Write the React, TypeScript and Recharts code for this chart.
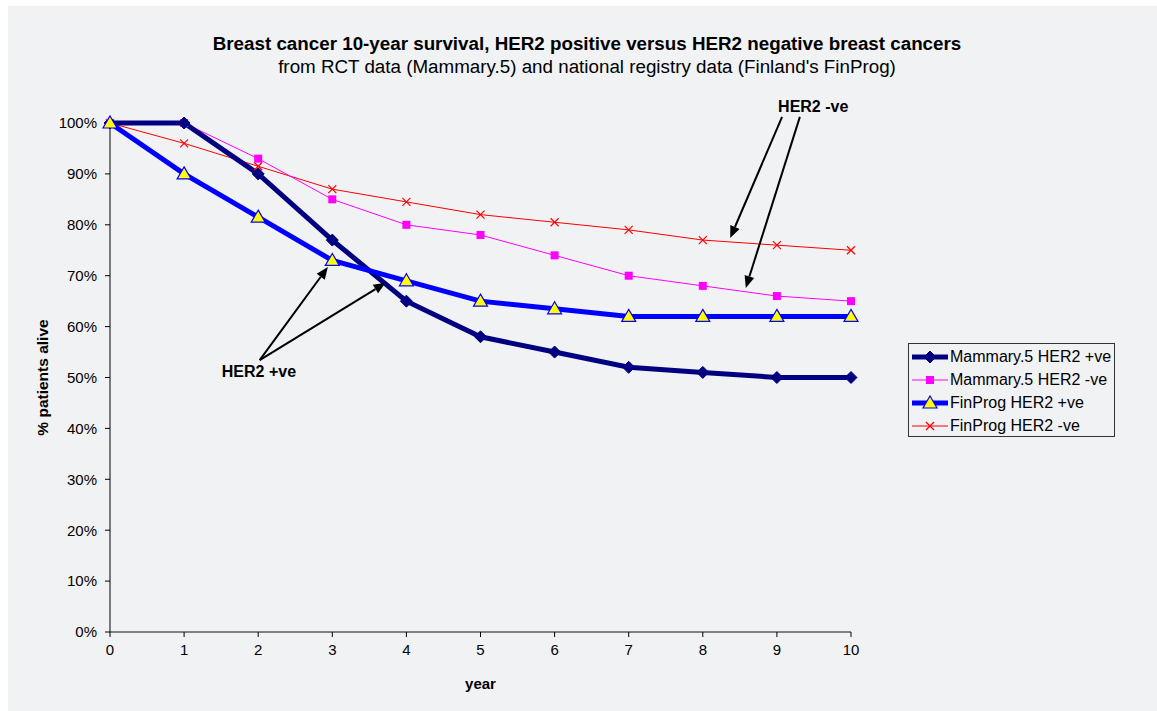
import {
  LineChart,
  Line,
  XAxis,
  YAxis,
  Legend,
  ReferenceLine,
  ReferenceDot,
} from 'recharts';

const years = [0, 1, 2, 3, 4, 5, 6, 7, 8, 9, 10];
const mammaryPos = [100, 100, 90, 77, 65, 58, 55, 52, 51, 50, 50];
const mammaryNeg = [100, 100, 93, 85, 80, 78, 74, 70, 68, 66, 65];
const finprogPos = [100, 90, 81.5, 73, 69, 65, 63.5, 62, 62, 62, 62];
const finprogNeg = [100, 96, 91.5, 87, 84.5, 82, 80.5, 79, 77, 76, 75];
const yTicks = [0, 10, 20, 30, 40, 50, 60, 70, 80, 90, 100];

// annotation arrows, in chart units (year, %)
const posArrows = [
  { from: [2.02, 53.4], to: [2.94, 71.7] },
  { from: [2.02, 53.4], to: [3.72, 68.6] },
];
const negArrows = [
  { from: [9.07, 101.2], to: [8.37, 77.4] },
  { from: [9.31, 101.2], to: [8.58, 67.6] },
];

const data = years.map((y, i) => ({
  year: y,
  mp: mammaryPos[i],
  mn: mammaryNeg[i],
  fp: finprogPos[i],
  fn: finprogNeg[i],
}));

const FONT = '"Liberation Sans", Arial, sans-serif';

const Diamond = ({ cx, cy }: any) => (
  <polygon
    points={`${cx},${cy - 6} ${cx + 6},${cy} ${cx},${cy + 6} ${cx - 6},${cy}`}
    fill='#000080'
    stroke='#000080'
  />
);
const Square = ({ cx, cy }: any) => (
  <rect x={cx - 4} y={cy - 4} width={8} height={8} fill='#ff00ff' />
);
const Triangle = ({ cx, cy }: any) => (
  <polygon
    points={`${cx},${cy - 7} ${cx + 7},${cy + 5} ${cx - 7},${cy + 5}`}
    fill='#ffff00'
    stroke='#0000ff'
    strokeWidth={1.2}
  />
);
const Cross = ({ cx, cy }: any) => (
  <g stroke='#ff0000' strokeWidth={1.2}>
    <line x1={cx - 4} y1={cy - 4} x2={cx + 4} y2={cy + 4} />
    <line x1={cx - 4} y1={cy + 4} x2={cx + 4} y2={cy - 4} />
  </g>
);

const Arrow = ({ x1, y1, x2, y2 }: any) => {
  const a = Math.atan2(y2 - y1, x2 - x1);
  const len = 12;
  const w = 5;
  const bx = x2 - len * Math.cos(a);
  const by = y2 - len * Math.sin(a);
  const px = -Math.sin(a) * w;
  const py = Math.cos(a) * w;
  return (
    <g>
      <line x1={x1} y1={y1} x2={bx} y2={by} stroke='#000' strokeWidth={2} />
      <polygon
        points={`${x2},${y2} ${bx + px},${by + py} ${bx - px},${by - py}`}
        fill='#000'
      />
    </g>
  );
};

const legendItems = [
  { name: 'Mammary.5 HER2 +ve', color: '#000080', width: 5, Icon: Diamond },
  { name: 'Mammary.5 HER2 -ve', color: '#ff00ff', width: 1, Icon: Square },
  { name: 'FinProg HER2 +ve', color: '#0000ff', width: 5, Icon: Triangle },
  { name: 'FinProg HER2 -ve', color: '#ff0000', width: 1, Icon: Cross },
];

const LegendBox = () => (
  <div
    style={{
      border: '1px solid #333',
      width: 207,
      height: 94,
      boxSizing: 'border-box',
      padding: '1px 0 0 3px',
      fontFamily: FONT,
      fontSize: 16,
      color: '#000',
      background: '#f1f2f4',
      whiteSpace: 'nowrap',
    }}
  >
    {legendItems.map((it) => (
      <div
        key={it.name}
        style={{ display: 'flex', alignItems: 'center', height: 23 }}
      >
        <svg width={36} height={16} style={{ marginRight: 2 }}>
          <line
            x1={0}
            y1={8}
            x2={36}
            y2={8}
            stroke={it.color}
            strokeWidth={it.width}
          />
          <it.Icon cx={18} cy={8} />
        </svg>
        <span>{it.name}</span>
      </div>
    ))}
  </div>
);

const labelShape = (text: string) => (p: any) => (
  <text
    x={p.cx}
    y={p.cy}
    textAnchor='middle'
    dominantBaseline='central'
    fontFamily={FONT}
    fontSize={16}
    fontWeight='bold'
    fill='#000'
  >
    {text}
  </text>
);

export default function App() {
  return (
    <div
      style={{
        position: 'absolute',
        left: 0,
        top: 0,
        width: 1157,
        height: 711,
        background: '#fff',
      }}
    >
      <div
        style={{
          position: 'absolute',
          left: 8,
          top: 6,
          width: 1149,
          height: 705,
          background: '#f1f2f4',
        }}
      />
      <div
        style={{
          position: 'absolute',
          left: 0,
          top: 32,
          width: 1174,
          textAlign: 'center',
          fontFamily: FONT,
          fontSize: 18.8,
          color: '#000',
          lineHeight: '23px',
        }}
      >
        <div style={{ fontWeight: 'bold' }}>
          Breast cancer 10-year survival, HER2 positive versus HER2 negative
          breast cancers
        </div>
        <div>
          from RCT data (Mammary.5) and national registry data (Finland's
          FinProg)
        </div>
      </div>
      <div style={{ position: 'absolute', left: 0, top: 0 }}>
        <LineChart
          width={1157}
          height={711}
          data={data}
          margin={{ top: 123, right: 306, bottom: 49, left: 50 }}
        >
          <XAxis
            dataKey='year'
            type='number'
            domain={[0, 10]}
            ticks={years}
            interval={0}
            height={30}
            tickSize={5}
            tickMargin={7}
            axisLine={{ stroke: '#808080', strokeWidth: 2 }}
            tickLine={{ stroke: '#000' }}
            tick={{ fill: '#000', fontFamily: FONT, fontSize: 15 }}
            label={{
              value: 'year',
              position: 'insideBottom',
              offset: -27,
              fill: '#000',
              fontFamily: FONT,
              fontSize: 15,
              fontWeight: 'bold',
            }}
          />
          <YAxis
            domain={[0, 100]}
            ticks={yTicks}
            interval={0}
            width={60}
            tickSize={5}
            tickMargin={8}
            tickFormatter={(v: number) => `${v}%`}
            axisLine={{ stroke: '#000' }}
            tickLine={{ stroke: '#000' }}
            tick={{ fill: '#000', fontFamily: FONT, fontSize: 15 }}
            label={{
              value: '% patients alive',
              angle: -90,
              position: 'insideLeft',
              offset: -8,
              fill: '#000',
              fontFamily: FONT,
              fontSize: 15.5,
              fontWeight: 'bold',
              style: { textAnchor: 'middle' },
            }}
          />
          <Legend
            layout='vertical'
            align='center'
            verticalAlign='middle'
            wrapperStyle={{ left: 908, top: 343, width: 'auto' }}
            content={() => <LegendBox />}
          />
          <Line
            dataKey='fn'
            name='FinProg HER2 -ve'
            stroke='#ff0000'
            strokeWidth={1}
            dot={<Cross />}
            isAnimationActive={false}
          />
          <Line
            dataKey='mn'
            name='Mammary.5 HER2 -ve'
            stroke='#ff00ff'
            strokeWidth={1}
            dot={<Square />}
            isAnimationActive={false}
          />
          <Line
            dataKey='mp'
            name='Mammary.5 HER2 +ve'
            stroke='#000080'
            strokeWidth={5}
            dot={<Diamond />}
            isAnimationActive={false}
          />
          <Line
            dataKey='fp'
            name='FinProg HER2 +ve'
            stroke='#0000ff'
            strokeWidth={5}
            dot={<Triangle />}
            isAnimationActive={false}
          />
          {[...posArrows, ...negArrows].map((a, i) => (
            <ReferenceLine
              key={i}
              segment={[
                { x: a.from[0], y: a.from[1] },
                { x: a.to[0], y: a.to[1] },
              ]}
              ifOverflow='visible'
              shape={(p: any) => <Arrow {...p} />}
            />
          ))}
          <ReferenceDot
            x={2.01}
            y={51.1}
            r={0}
            ifOverflow='visible'
            shape={labelShape('HER2 +ve')}
          />
          <ReferenceDot
            x={9.49}
            y={103.3}
            r={0}
            ifOverflow='visible'
            shape={labelShape('HER2 -ve')}
          />
        </LineChart>
      </div>
    </div>
  );
}
